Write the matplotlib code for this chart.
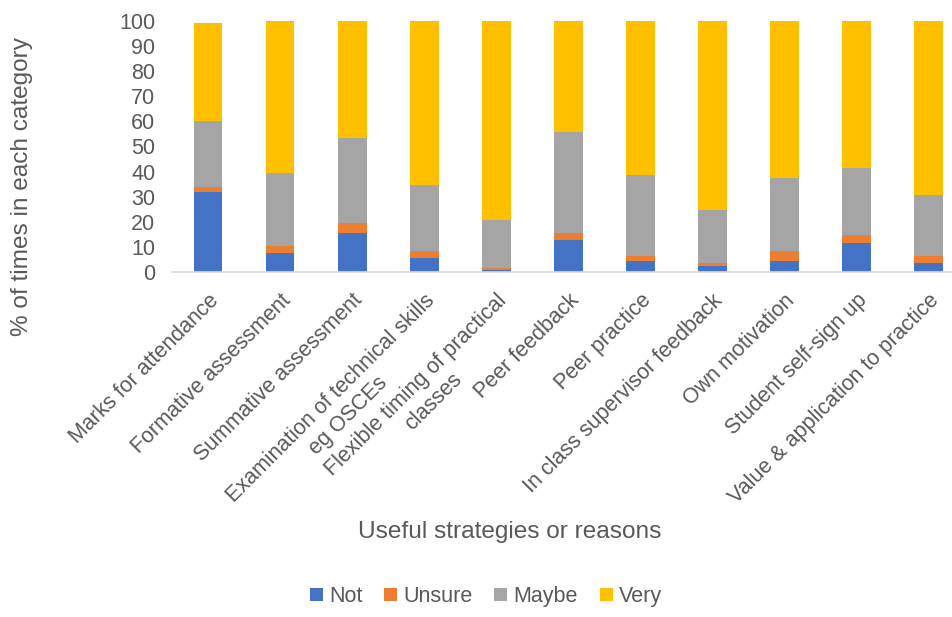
import numpy as np
import matplotlib.pyplot as plt

plt.rcParams['font.family'] = ['Liberation Sans', 'DejaVu Sans']

categories = ["Marks for attendance", "Formative assessment", "Summative assessment",
              "Examination of technical skills\neg OSCEs", "Flexible timing of practical\nclasses",
              "Peer feedback", "Peer practice", "In class supervisor feedback",
              "Own motivation", "Student self-sign up", "Value & application to practice"]
not_useful = [32, 7.5, 15.5, 5.5, 0.7, 12.6, 4.5, 2.5, 4.5, 11.6, 3.5]
unsure = [2, 3, 4, 3, 1, 3.1, 2, 1, 4, 3, 3]
maybe = [26, 29, 34, 26, 19, 40, 32, 21, 29, 27, 24]
very = [39, 60.5, 46.5, 65.5, 79.3, 44.3, 61.5, 75.5, 62.5, 58.4, 69.5]

series = [("Not", not_useful, '#4472C4'), ("Unsure", unsure, '#ED7D31'),
          ("Maybe", maybe, '#A5A5A5'), ("Very", very, '#FFC000')]
txt = '#595959'

fig = plt.figure(figsize=(9.53, 6.17), dpi=100)
ax = fig.add_axes([0.1805, 0.5592, 0.8195, 0.4068])

x = np.arange(len(categories))
bottom = np.zeros(len(categories))
for name, vals, col in series:
    ax.bar(x, vals, 0.4, bottom=bottom, color=col, label=name)
    bottom += np.array(vals)

ax.set_xlim(-0.5, 10.34)
ax.set_ylim(0, 100)
ax.set_yticks(range(0, 101, 10))
ax.tick_params(axis='y', length=0, labelsize=15.5, labelcolor=txt, pad=12)
ax.tick_params(axis='x', length=0, labelsize=15.5, labelcolor=txt, pad=13)
ax.set_xticks(x)
ax.set_xticklabels(categories, rotation=45, ha='right', rotation_mode='anchor',
                   multialignment='center')
for s in ['top', 'right', 'left']:
    ax.spines[s].set_visible(False)
ax.spines['bottom'].set_color('#d9d9d9')
ax.spines['bottom'].set_linewidth(1.2)

fig.text(0.023, 0.697, "% of times in each category", rotation=90, ha='center',
         va='center', fontsize=17.6, color=txt)
fig.text(0.535, 0.138, "Useful strategies or reasons", ha='center', va='center',
         fontsize=17.6, color=txt)

fig.legend(loc='center', bbox_to_anchor=(0.51, 0.033), ncol=4, frameon=False,
           fontsize=15.5, labelcolor=txt, handlelength=0.6, handleheight=0.6,
           handletextpad=0.3, columnspacing=1.0)

fig.savefig('out.png', dpi=100)
